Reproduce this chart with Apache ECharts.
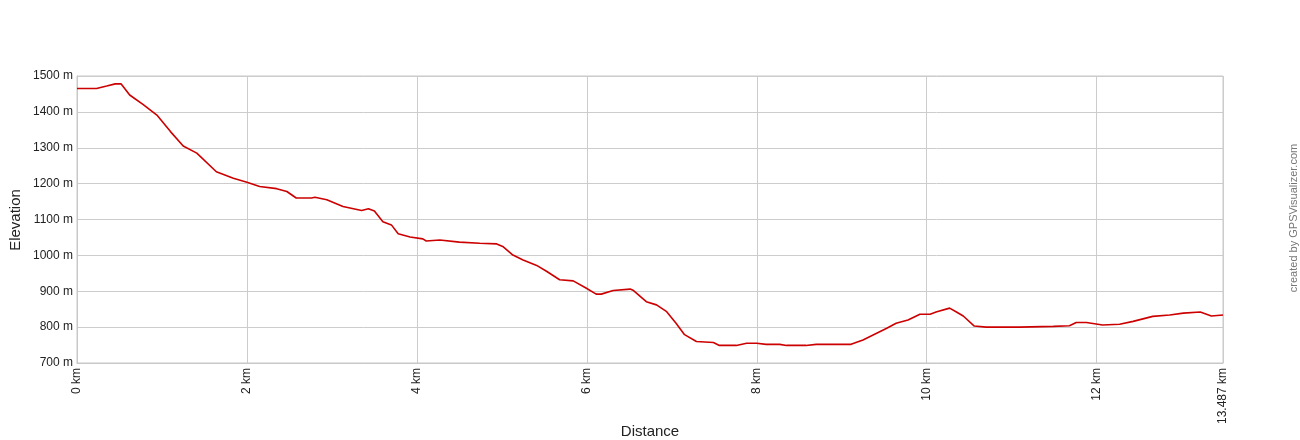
<!DOCTYPE html>
<html><head><meta charset="utf-8">
<script src="https://cdn.jsdelivr.net/npm/echarts@6/dist/echarts.min.js"></script>
<style>html,body{margin:0;padding:0;background:#fff}#c{width:1300px;height:440px}</style>
</head><body><div id="c"></div>
<script>
const distanceKm = [0,0.23,0.35,0.45,0.52,0.62,0.78,0.94,1.1,1.25,1.41,1.64,1.84,2.0,2.15,2.35,2.47,2.58,2.76,2.8,2.94,3.13,3.35,3.43,3.5,3.6,3.7,3.78,3.92,4.07,4.11,4.27,4.5,4.74,4.94,5.01,5.13,5.25,5.41,5.53,5.68,5.84,5.99,6.11,6.17,6.31,6.51,6.55,6.7,6.82,6.94,7.05,7.15,7.29,7.49,7.56,7.76,7.88,8.0,8.11,8.27,8.35,8.58,8.7,8.86,9.11,9.25,9.53,9.64,9.78,9.92,10.04,10.11,10.27,10.35,10.43,10.56,10.7,11.09,11.49,11.68,11.76,11.88,12.07,12.27,12.43,12.66,12.86,13.02,13.22,13.35,13.487];
const elevationM = [1465,1465,1472,1478,1478,1447,1420,1391,1345,1305,1285,1233,1215,1204,1192,1186,1178,1160,1160,1162,1155,1136,1125,1130,1124,1094,1085,1060,1051,1046,1040,1043,1037,1034,1032,1025,1001,987,972,955,932,929,909,892,892,902,906,902,871,862,843,811,779,760,757,749,749,755,755,752,752,749,749,752,752,752,764,797,811,820,836,836,842,853,842,831,803,800,800,802,804,813,813,806,808,816,830,834,839,842,831,834];
const xMax = 13.487;
const yMin = 700, yMax = 1500, yStep = 100;
const xStep = 2;
const xTitle = 'Distance', yTitle = 'Elevation', credit = 'created by GPSVisualizer.com';

const chart = echarts.init(document.getElementById('c'), null, {renderer: 'canvas'});
const font = 'Liberation Sans, Arial, sans-serif';
chart.setOption({
  animation: false,
  backgroundColor: '#fff',
  grid: {left: 77, right: 77, top: 76, bottom: 77, containLabel: false, outerBoundsMode: 'none',
    show: true, borderColor: '#c8c8c8', borderWidth: 1},
  xAxis: {
    type: 'value', min: 0, max: xMax, interval: xStep,
    axisLine: {show: true, lineStyle: {color: '#c8c8c8'}},
    axisTick: {show: false},
    axisLabel: {rotate: 90, margin: 5, fontFamily: font, fontSize: 12, color: '#222',
      showMaxLabel: true, showMinLabel: true,
      formatter: v => (Math.abs(v - xMax) < 1e-6 ? xMax.toFixed(3) : String(v)) + ' km'},
    splitLine: {show: true, lineStyle: {color: '#cccccc', width: 1}}
  },
  yAxis: {
    type: 'value', min: yMin, max: yMax, interval: yStep,
    axisLine: {show: true, lineStyle: {color: '#c8c8c8'}},
    axisTick: {show: false},
    axisLabel: {margin: 4, fontFamily: font, fontSize: 12, color: '#222', formatter: v => v + ' m'},
    splitLine: {show: true, lineStyle: {color: '#cccccc', width: 1}}
  },
  graphic: [{
    type: 'text', x: 1288, y: 218, rotation: Math.PI / 2,
    style: {text: credit, fill: '#777', font: '11px ' + font,
      textAlign: 'center', textVerticalAlign: 'top'}
  }, {
    type: 'text', x: 650, y: 432,
    style: {text: xTitle, fill: '#222', font: '15px ' + font, textAlign: 'center', textVerticalAlign: 'middle'}
  }, {
    type: 'text', x: 16, y: 220, rotation: Math.PI / 2,
    style: {text: yTitle, fill: '#222', font: '15px ' + font, textAlign: 'center', textVerticalAlign: 'middle'}
  }],
  series: [{
    type: 'line', showSymbol: false, symbol: 'none',
    data: distanceKm.map((d, i) => [d, elevationM[i]]),
    lineStyle: {color: '#cc0000', width: 1.6},
    itemStyle: {color: '#cc0000'}
  }]
});
</script></body></html>
